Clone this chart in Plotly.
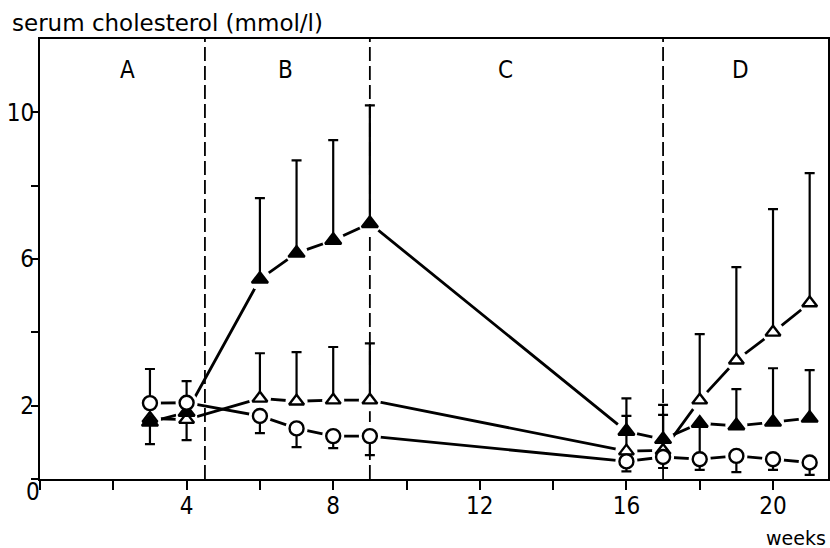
import plotly.graph_objects as go

# ---- data ----
weeks = [3, 4, 6, 7, 8, 9, 16, 17, 18, 19, 20, 21]

circ_mean = [2.07, 2.08, 1.72, 1.38, 1.17, 1.17, 0.48, 0.60, 0.54, 0.63, 0.54, 0.45]
circ_plus = [0.93, 0.59, 0, 0, 0, 0, 0, 0, 0, 0, 0, 0]
circ_minus = [0, 0, 0.47, 0.51, 0.33, 0.52, 0.27, 0.30, 0.29, 0.44, 0.29, 0.34]

ftri_mean = [1.55, 1.82, 5.45, 6.16, 6.51, 6.97, 1.30, 1.08, 1.52, 1.45, 1.55, 1.66]
ftri_plus = [0, 0, 2.21, 2.53, 2.73, 3.22, 0.90, 0.94, 0, 1.00, 1.47, 1.31]
ftri_minus = [0.60, 0, 0, 0, 0, 0, 0, 0, 0.98, 0, 0, 0]

otri_mean = [1.65, 1.62, 2.20, 2.12, 2.15, 2.15, 0.76, 0.78, 2.15, 3.24, 4.00, 4.80]
otri_plus = [0, 0, 1.23, 1.34, 1.45, 1.55, 0.96, 0.97, 1.80, 2.54, 3.36, 3.54]
otri_minus = [0, 0.56, 0, 0, 0, 0, 0, 0, 0, 0, 0, 0]

phase_bounds = [4.5, 9, 17]
phase_labels = ["A", "B", "C", "D"]
phase_label_x = [2.4, 6.7, 12.7, 19.1]
phase_label_y = 11.15

xtick_vals = [0, 2, 4, 6, 8, 10, 12, 14, 16, 18, 20]
xtick_text = ["", "", "4", "", "8", "", "12", "", "16", "", "20"]
ytick_vals = [0, 2, 4, 6, 8, 10]
ytick_text = ["", "2", "", "6", "", "10"]

FONT = "DejaVu Sans Condensed, DejaVu Sans, sans-serif"
FONT_T = "DejaVu Sans, sans-serif"
LW = 2.8

fig = go.Figure()

series = [
    (otri_mean, otri_plus, otri_minus, "triangle-up", "white", 13),
    (ftri_mean, ftri_plus, ftri_minus, "triangle-up", "black", 14),
    (circ_mean, circ_plus, circ_minus, "circle", "white", 14),
]

# lines
for mean, _, _, _, _, _ in series:
    fig.add_trace(go.Scatter(x=weeks, y=mean, mode="lines",
                             line=dict(color="black", width=LW),
                             hoverinfo="skip", showlegend=False))
# white halos to create the gaps next to the markers
for mean, _, _, sym, _, _ in series:
    fig.add_trace(go.Scatter(x=weeks, y=mean, mode="markers",
                             marker=dict(symbol="circle", size=22, color="white",
                                         line=dict(width=0)),
                             hoverinfo="skip", showlegend=False))
# markers with error bars
for mean, plus, minus, sym, fill, size in series:
    fig.add_trace(go.Scatter(
        x=weeks, y=mean, mode="markers",
        marker=dict(symbol=sym, size=size, color=fill,
                    line=dict(color="black", width=2.4)),
        error_y=dict(type="data", symmetric=False, array=plus, arrayminus=minus,
                     color="black", thickness=2.2, width=5),
        showlegend=False))

shapes = []
for b in phase_bounds:
    shapes.append(dict(type="line", xref="x", yref="paper", x0=b, x1=b, y0=0, y1=1,
                       line=dict(color="black", width=1.8, dash="14px,5px"),
                       layer="below"))

annotations = []
for lab, lx in zip(phase_labels, phase_label_x):
    annotations.append(dict(x=lx, y=phase_label_y, xref="x", yref="y", text=lab,
                            showarrow=False, font=dict(family=FONT, size=24, color="black")))

def px(xp):
    return (xp - 40) / 788.0

def py(yp):
    return (479 - yp) / 440.0

annotations.append(dict(x=px(10), y=py(23), xref="paper", yref="paper",
                        text="serum cholesterol (mmol/l)", xanchor="left", yanchor="middle",
                        showarrow=False, font=dict(family=FONT_T, size=23, color="black")))
annotations.append(dict(x=px(828), y=py(538), xref="paper", yref="paper", text="weeks",
                        xanchor="right", yanchor="middle", showarrow=False,
                        font=dict(family=FONT_T, size=19, color="black")))
annotations.append(dict(x=px(33), y=py(492), xref="paper", yref="paper", text="0",
                        xanchor="center", yanchor="middle", showarrow=False,
                        font=dict(family=FONT, size=24, color="black")))

fig.update_layout(
    width=830, height=548,
    margin=dict(l=40, r=2, t=39, b=69, autoexpand=False),
    paper_bgcolor="white", plot_bgcolor="white",
    shapes=shapes, annotations=annotations,
    font=dict(family=FONT, color="black"),
    xaxis=dict(range=[0, 21.5], tickvals=xtick_vals, ticktext=xtick_text,
               ticks="outside", ticklen=9, tickwidth=2, tickcolor="black",
               showgrid=False, zeroline=False, showline=True, linecolor="black",
               linewidth=2.2, mirror=True, automargin=False, ticklabelstandoff=-5,
               tickfont=dict(family=FONT, size=24)),
    yaxis=dict(range=[0, 12], tickvals=ytick_vals, ticktext=ytick_text,
               ticks="outside", ticklen=7, tickwidth=2, tickcolor="black",
               showgrid=False, zeroline=False, showline=True, linecolor="black",
               linewidth=2.2, mirror=True, automargin=False, ticklabelstandoff=-8,
               tickfont=dict(family=FONT, size=24)),
)

fig.write_html(
    "out.html",
    config={"displayModeBar": False},
    post_script="document.body.style.margin='0';document.body.style.padding='0';"
                "document.body.style.overflow='hidden';",
)
